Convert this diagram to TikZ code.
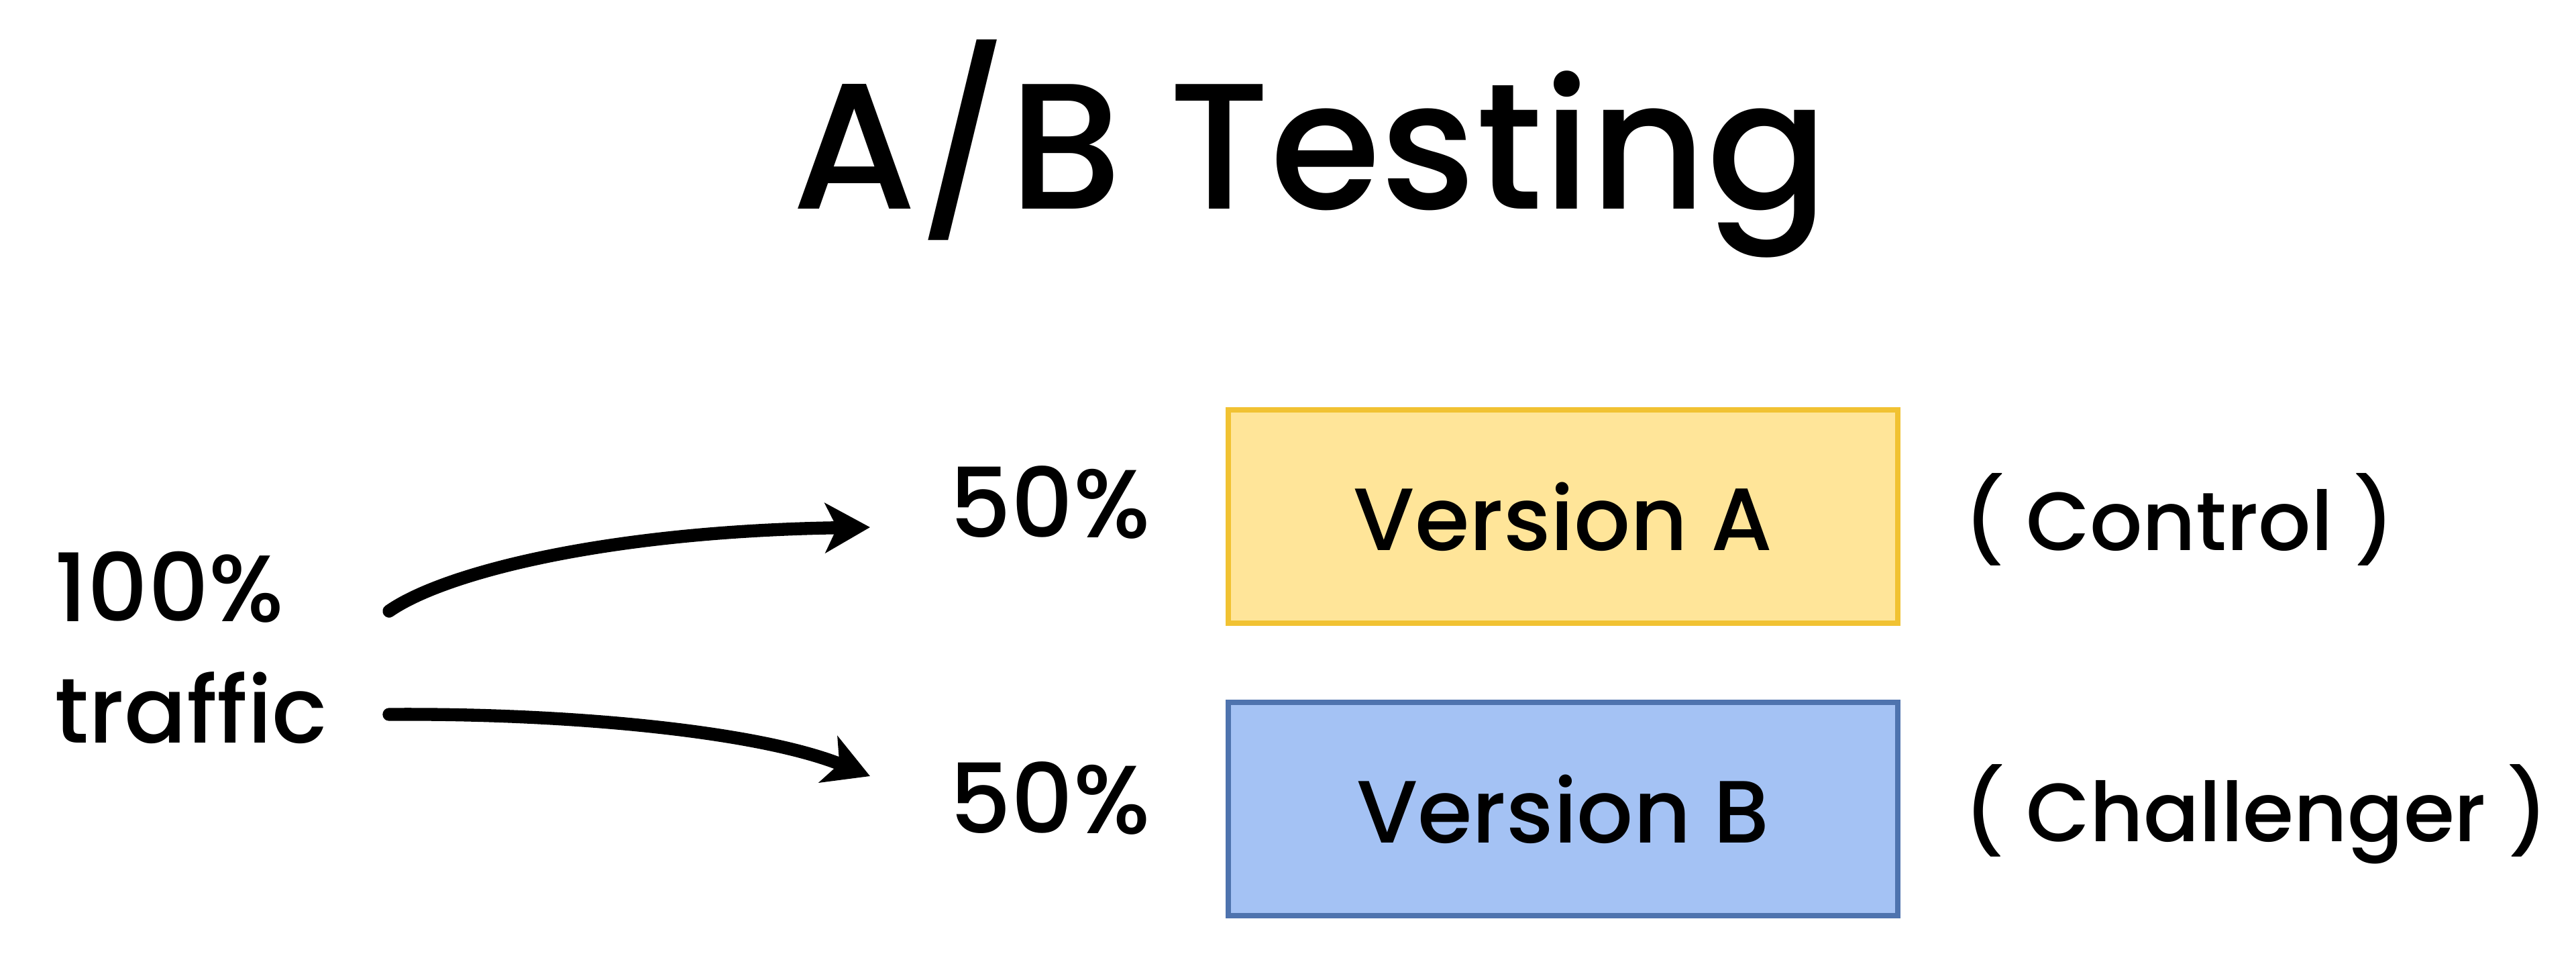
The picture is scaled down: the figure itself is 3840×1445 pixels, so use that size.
\documentclass[tikz,border=0pt]{standalone}
\usepackage{fontspec}
\setmainfont{Poppins Medium}
\usetikzlibrary{arrows.meta}
\definecolor{yelFill}{HTML}{FFE599}
\definecolor{yelLine}{HTML}{F1C232}
\definecolor{bluFill}{HTML}{A4C2F4}
\definecolor{bluLine}{HTML}{4E73AE}
\tikzset{
  vbox/.style={draw, line width=2.2pt, minimum width=9.97cm, minimum height=3.18cm, inner sep=0pt, font=\fontsize{37.5}{40}\selectfont},
  lbl/.style={inner sep=0pt, anchor=base west},
  flow/.style={line width=5.5pt, line cap=round, -{Stealth[length=19pt,width=21pt,inset=5pt]}}
}
\begin{document}
\begin{tikzpicture}[x=0.01cm,y=-0.01cm]
\useasboundingbox (0,0) rectangle (3840,1445);
\node[inner sep=0pt, anchor=base, font=\fontsize{76}{80}\selectfont] (title) at (1953,311) {A/B Testing};
\node[vbox, fill=yelFill, draw=yelLine] (va) at (2330,770) {Version A};
\node[vbox, fill=bluFill, draw=bluLine] (vb) at (2330,1206) {Version B};
\node[lbl, font=\fontsize{41}{44}\selectfont] (pa) at (1415,801) {50\%};
\node[lbl, font=\fontsize{41}{44}\selectfont] (pb) at (1415,1242) {50\%};
\node[lbl, font=\fontsize{35}{40}\selectfont] (ca) at (2927,820) {( Control )};
\node[lbl, font=\fontsize{35}{40}\selectfont] (cb) at (2927,1254) {( Challenger )};
\node[lbl, font=\fontsize{40}{44}\selectfont] (hund) at (81,926) {100\%};
\node[lbl, font=\fontsize{39}{44}\selectfont] (traf) at (81,1107) {traffic};
\coordinate (s1) at (580,911);
\coordinate (e1) at (1297,786);
\coordinate (s2) at (580,1065);
\coordinate (e2) at (1297,1157);
\draw[flow] (s1) .. controls (660,855) and (900,792) .. (e1);
\draw[flow] (s2) .. controls (850,1063) and (1130,1090) .. (e2);
\end{tikzpicture}
\end{document}
